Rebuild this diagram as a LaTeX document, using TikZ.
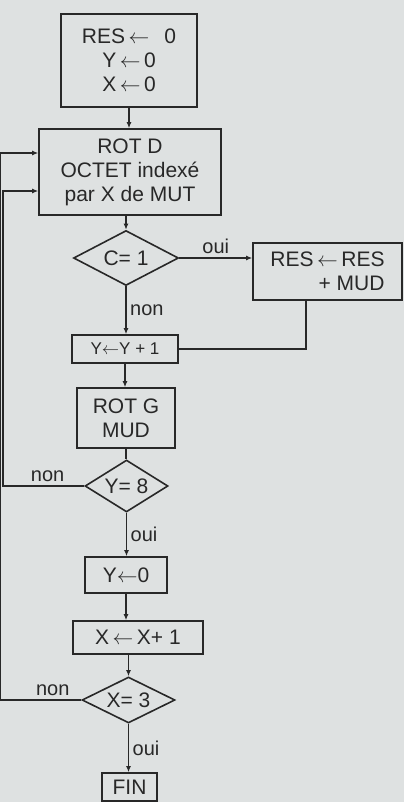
\documentclass[tikz,border=0pt]{standalone}
\usepackage{fontspec}
\setmainfont{Liberation Sans}
\usetikzlibrary{shapes.geometric,arrows.meta}
\definecolor{papier}{RGB}{222,225,225}
\definecolor{encre}{RGB}{40,40,40}
\newcommand{\recoit}{\,$\leftarrow$\,}

\begin{document}
\begin{tikzpicture}[x=1pt,y=-1pt,color=encre,line width=1.6pt,
  boite/.style={draw,rectangle,inner sep=0pt,align=center,font=\fontsize{21}{24}\selectfont},
  test/.style={draw,diamond,inner sep=0pt,aspect=2,font=\fontsize{21}{24}\selectfont},
  fl/.style={-{Latex[length=6pt,width=5pt]}},
  etiq/.style={font=\fontsize{20}{24}\selectfont}]
\fill[papier] (0,0) rectangle (404,802);
\useasboundingbox (0,0) rectangle (404,802);

\node[boite,minimum width=136pt,minimum height=93pt] (init) at (129,60.5) {RES\recoit\ \ 0\\Y\recoit 0\\X\recoit 0};
\node[boite,minimum width=182pt,minimum height=86pt] (rotd) at (130,172) {ROT D\\OCTET indexé\\par X de MUT};
\node[test,minimum width=105pt,minimum height=55pt] (c1) at (126,258) {C= 1};
\node[boite,align=right,minimum width=149pt,minimum height=57pt] (res) at (327.5,271.5) {RES\recoit RES\\+ MUD};
\node[boite,minimum width=106pt,minimum height=28pt,font=\fontsize{17}{20}\selectfont] (yinc) at (125,349) {Y$\leftarrow$Y + 1};
\node[boite,minimum width=98pt,minimum height=60pt] (rotg) at (126,418) {ROT G\\MUD};
\node[test,aspect=1.6,minimum width=83pt,minimum height=52pt] (y8) at (126.5,486) {Y= 8};
\node[boite,minimum width=82pt,minimum height=36pt] (y0) at (126,575) {Y$\leftarrow$0};
\node[boite,minimum width=130pt,minimum height=33pt] (xinc) at (138,637.5) {X\recoit X+ 1};
\node[test,minimum width=93pt,minimum height=46pt] (x3) at (128.5,700) {X= 3};
\node[boite,minimum width=55pt,minimum height=28pt] (fin) at (129.5,787) {FIN};

\draw[fl] (init.south) -- (init.south |- rotd.north);
\draw[fl] (c1.north |- rotd.south) -- (c1.north);
\draw[fl] (c1.east) -- node[etiq,above]{oui} (c1.east -| res.west);
\draw[fl] (c1.south) -- node[etiq,right]{non} (c1.south |- yinc.north);
\draw ([xshift=-21.5pt]res.south) |- (yinc.east);
\draw[fl] (yinc.south) -- (yinc.south |- rotg.north);
\draw (rotg.south) -- (rotg.south |- y8.north);
\draw[fl] (y8.west) -- node[etiq,above,pos=0.45]{non} (3,486) |- (rotd.west |- 0,191);
\draw[fl] (y8.south) -- node[etiq,right]{oui} (y8.south |- y0.north);
\draw[fl] (y0.south) -- (y0.south |- xinc.north);
\draw[fl] (x3.north |- xinc.south) -- (x3.north);
\draw[fl] (x3.west) -- node[etiq,above,pos=0.35]{non} (0,700) |- (rotd.west |- 0,153);
\draw[fl] (x3.south) -- node[etiq,right]{oui} (x3.south |- fin.north);
\end{tikzpicture}
\end{document}
